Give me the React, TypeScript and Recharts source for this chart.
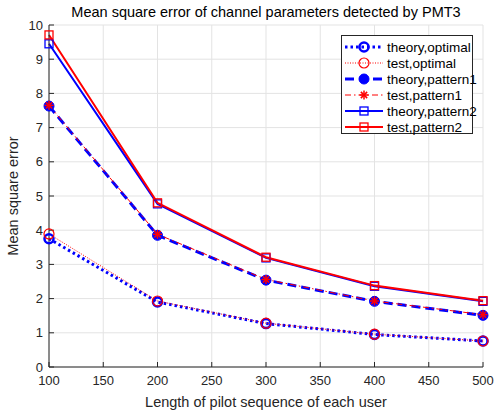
import { LineChart, Line, XAxis, YAxis, CartesianGrid } from "recharts";

const pilotLengths = [100, 200, 300, 400, 500];
const theoryOptimal = [3.75, 1.9, 1.27, 0.95, 0.76];
const testOptimal = [3.89, 1.93, 1.28, 0.96, 0.76];
const theoryPattern1 = [7.63, 3.85, 2.54, 1.92, 1.51];
const testPattern1 = [7.65, 3.88, 2.56, 1.93, 1.53];
const theoryPattern2 = [9.45, 4.77, 3.19, 2.36, 1.92];
const testPattern2 = [9.71, 4.8, 3.21, 2.38, 1.94];

const xTicks = [100, 150, 200, 250, 300, 350, 400, 450, 500];
const yTicks = [0, 1, 2, 3, 4, 5, 6, 7, 8, 9, 10];

const AXIS = "#262626";
const BLUE = "#0000ff";
const RED = "#ff0000";
const FONT = "'Liberation Sans', Arial, sans-serif";

type MarkerKind = "ringBold" | "ring" | "disc" | "star" | "square";

interface Series {
  key: string;
  name: string;
  color: string;
  width: number;
  dash?: string;
  marker: MarkerKind;
}

// blue (theory) curves go down first so the red (test) ones sit on top
const series: Series[] = [
  { key: "theoryOptimal", name: "theory,optimal", color: BLUE, width: 3, dash: "2.5 3", marker: "ringBold" },
  { key: "theoryPattern1", name: "theory,pattern1", color: BLUE, width: 3, dash: "9 5", marker: "disc" },
  { key: "theoryPattern2", name: "theory,pattern2", color: BLUE, width: 2, marker: "square" },
  { key: "testOptimal", name: "test,optimal", color: RED, width: 1, dash: "1 1.5", marker: "ring" },
  { key: "testPattern1", name: "test,pattern1", color: RED, width: 1, dash: "6 3 1.5 3", marker: "star" },
  { key: "testPattern2", name: "test,pattern2", color: RED, width: 2, marker: "square" },
];

const legendOrder = ["theoryOptimal", "testOptimal", "theoryPattern1", "testPattern1", "theoryPattern2", "testPattern2"];

const data = pilotLengths.map((n, i) => ({
  n,
  theoryOptimal: theoryOptimal[i],
  testOptimal: testOptimal[i],
  theoryPattern1: theoryPattern1[i],
  testPattern1: testPattern1[i],
  theoryPattern2: theoryPattern2[i],
  testPattern2: testPattern2[i],
}));

function Marker({ kind, cx, cy, color }: { kind: MarkerKind; cx: number; cy: number; color: string }) {
  switch (kind) {
    case "ringBold":
      return <circle cx={cx} cy={cy} r={4.5} fill="none" stroke={color} strokeWidth={2.5} />;
    case "ring":
      return <circle cx={cx} cy={cy} r={5} fill="none" stroke={color} strokeWidth={1.2} />;
    case "disc":
      return <circle cx={cx} cy={cy} r={5} fill={color} stroke={color} strokeWidth={1} />;
    case "star": {
      const s = 4.5;
      const d = s * 0.7;
      return (
        <g stroke={color} strokeWidth={1.5}>
          <line x1={cx - s} y1={cy} x2={cx + s} y2={cy} />
          <line x1={cx} y1={cy - s} x2={cx} y2={cy + s} />
          <line x1={cx - d} y1={cy - d} x2={cx + d} y2={cy + d} />
          <line x1={cx - d} y1={cy + d} x2={cx + d} y2={cy - d} />
        </g>
      );
    }
    default:
      return <rect x={cx - 4} y={cy - 4} width={8} height={8} fill="none" stroke={color} strokeWidth={1.3} />;
  }
}

function LegendBox() {
  const rowH = 16;
  return (
    <svg
      width={132}
      height={100}
      style={{ position: "absolute", left: 341, top: 35, overflow: "visible" }}
    >
      <rect x={0.5} y={0.5} width={131} height={98} fill="#fff" stroke={AXIS} strokeWidth={1} />
      {legendOrder.map((k, i) => {
        const s = series.find((e) => e.key === k)!;
        const y = 12 + i * rowH;
        return (
          <g key={k}>
            <line x1={4} x2={42} y1={y} y2={y} stroke={s.color} strokeWidth={s.width} strokeDasharray={s.dash} />
            <Marker kind={s.marker} cx={23} cy={y} color={s.color} />
            <text x={46} y={y + 4.5} fontSize={13.5} fill="#000" fontFamily={FONT}>
              {s.name}
            </text>
          </g>
        );
      })}
    </svg>
  );
}

export default function App() {
  const tickStyle = { fontSize: 13, fill: AXIS, fontFamily: FONT };
  return (
    <div style={{ position: "absolute", left: 0, top: 0, width: 494, height: 411, background: "#fff", fontFamily: FONT }}>
      <div
        style={{
          position: "absolute",
          left: 49,
          width: 434,
          top: 4,
          lineHeight: "17px",
          textAlign: "center",
          fontSize: 14.5,
          color: "#000",
        }}
      >
        Mean square error of channel parameters detected by PMT3
      </div>
      <LineChart width={494} height={411} data={data} margin={{ top: 25, right: 11, bottom: 0, left: 0 }}>
        <CartesianGrid stroke="#e3e3e3" />
        <XAxis
          dataKey="n"
          type="number"
          domain={[100, 500]}
          ticks={xTicks}
          height={44}
          stroke={AXIS}
          tickSize={-5}
          tickMargin={14}
          tick={tickStyle}
          label={{ value: "Length of pilot sequence of each user", position: "insideBottom", offset: 4, fontSize: 14.5, fill: AXIS, fontFamily: FONT }}
        />
        <YAxis
          type="number"
          domain={[0, 10]}
          ticks={yTicks}
          width={49}
          stroke={AXIS}
          tickSize={-5}
          tickMargin={11}
          tick={tickStyle}
          label={{ value: "Mean square error", angle: -90, position: "insideLeft", offset: 13, fontSize: 14.5, fill: AXIS, fontFamily: FONT, style: { textAnchor: "middle" } }}
        />
        <XAxis xAxisId="top" orientation="top" type="number" domain={[100, 500]} ticks={xTicks} height={0} stroke={AXIS} tickSize={-5} tick={false} />
        <YAxis yAxisId="right" orientation="right" type="number" domain={[0, 10]} ticks={yTicks} width={0} stroke={AXIS} tickSize={-5} tick={false} />
        {series.map((s) => (
          <Line
            key={s.key}
            dataKey={s.key}
            name={s.name}
            type="linear"
            stroke={s.color}
            strokeWidth={s.width}
            strokeDasharray={s.dash}
            isAnimationActive={false}
            activeDot={false}
            dot={(p: any) => <Marker key={`${s.key}-${p.index}`} kind={s.marker} cx={p.cx} cy={p.cy} color={s.color} />}
          />
        ))}
      </LineChart>
      <LegendBox />
    </div>
  );
}
